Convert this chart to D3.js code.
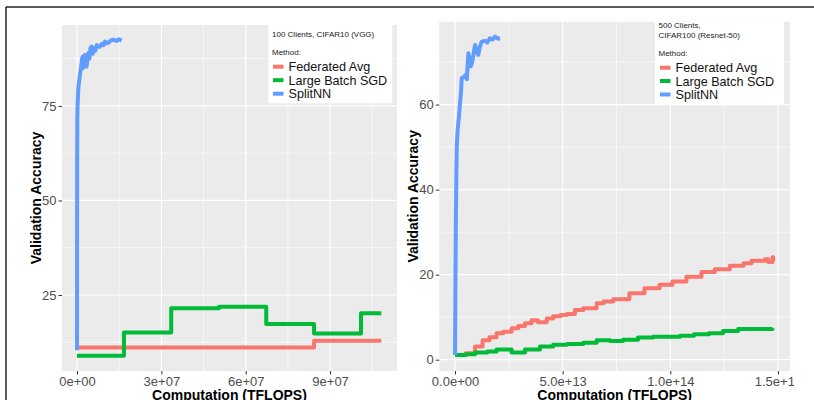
<!DOCTYPE html>
<html>
<head>
<meta charset="utf-8">
<script src="https://cdn.jsdelivr.net/npm/d3@7"></script>
<style>
  body { margin: 0; background: #fff; }
  svg { display: block; font-family: "Liberation Sans", Arial, sans-serif; }
</style>
</head>
<body>
<svg id="chart" width="814" height="400"></svg>
<script>
// ===> data
const methods = ["Federated Avg", "Large Batch SGD", "SplitNN"];
const colors = ["#F8766D", "#00BA38", "#619CFF"];

// left panel: 100 clients, CIFAR10 (VGG)
const leftTitle = ["100 Clients, CIFAR10 (VGG)"];
const leftXTicks = [0, 3e7, 6e7, 9e7];
const leftXLabels = ["0e+00", "3e+07", "6e+07", "9e+07"];
const leftYTicks = [25, 50, 75];

const leftFedX = [0, 8.43e7, 10.82e7];
const leftFedY = [11.1, 12.9, 12.9];
const leftSgdX = [0, 1.67e7, 3.35e7, 5.05e7, 6.73e7, 8.43e7, 10.1e7, 10.82e7];
const leftSgdY = [8.9, 15.1, 21.5, 21.9, 17.3, 14.8, 20.2, 20.2];
const leftSplitX = [0, 0.002e7, 0.005e7, 0.01e7, 0.02e7, 0.05e7, 0.1e7, 0.13e7, 0.16e7, 0.18e7, 0.2e7, 0.22e7,
  0.25e7, 0.28e7, 0.31e7, 0.34e7, 0.4e7, 0.44e7, 0.48e7, 0.52e7, 0.56e7, 0.6e7, 0.65e7, 0.7e7,
  0.8e7, 0.9e7, 0.95e7, 1.0e7, 1.1e7, 1.2e7, 1.3e7, 1.4e7, 1.5e7, 1.59e7];
const leftSplitY = [10.4, 35, 60, 71, 75, 80, 83, 84.5, 86, 87.5, 88, 85, 87, 88.5, 86.5, 85.4, 89, 87.5, 90.3,
  90.7, 88.8, 90.3, 89.6, 91.1, 90.6, 91.5, 91.1, 92, 91.6, 92.3, 92.5, 92.2, 92.6, 92.3];

// right panel: 500 clients, CIFAR100 (Resnet-50)
const rightTitle = ["500 Clients,", "CIFAR100 (Resnet-50)"];
const rightXTicks = [0, 5e13, 1e14, 1.5e14];
const rightXLabels = ["0.0e+00", "5.0e+13", "1.0e+14", "1.5e+14"];
const rightYTicks = [0, 20, 40, 60];

const rightFedX = [0, 0.5, 0.93, 1.28, 1.6, 1.93, 2.24, 2.63, 2.94, 3.25, 3.56, 3.85, 4.26, 4.56, 4.9, 5.2,
  5.57, 5.96, 6.58, 6.9, 7.35, 8.1, 8.8, 9.5, 10.1, 10.75, 11.45, 12.07, 12.77, 13.4, 13.77, 14.4,
  14.55, 14.75, 14.78, 14.8].map(d => d * 1e13);
const rightFedY = [1.1, 1.5, 3.1, 4.6, 5.3, 6.2, 6.6, 7.4, 7.9, 8.6, 9.3, 8.8, 9.7, 10.2, 10.5, 10.75,
  11.7, 12.1, 13.3, 13.7, 14.2, 15.6, 16.8, 17.6, 18.4, 19.5, 20.6, 21.3, 22.1, 22.7, 23.3, 23.6,
  23.0, 24.1, 23.2, 23.2];
const rightSgdX = [0, 0.5, 0.93, 1.5, 1.93, 2.63, 3.25, 3.95, 4.56, 5.2, 5.96, 6.58, 7.2, 7.8, 8.5, 9.2,
  10.45, 11.1, 11.8, 12.45, 13.15, 14.75].map(d => d * 1e13);
const rightSgdY = [1.1, 1.3, 1.7, 1.9, 2.4, 1.7, 2.4, 3.1, 3.5, 3.7, 4.0, 4.6, 4.4, 4.7, 5.2, 5.4,
  5.65, 6.0, 6.2, 6.75, 7.2, 7.4];
const rightSplitX = [0, 0.01, 0.02, 0.04, 0.06, 0.08, 0.12, 0.18, 0.23, 0.28, 0.31, 0.4, 0.5, 0.55, 0.62,
  0.68, 0.73, 0.8, 0.93, 1.0, 1.08, 1.15, 1.24, 1.4, 1.5, 1.62, 1.75, 1.86, 2.0, 2.09].map(d => d * 1e13);
const rightSplitY = [1.1, 8, 18, 33, 42, 50, 54, 57, 60.3, 63, 66.2, 66.5, 67, 66, 72.1, 70.5, 69, 70, 74,
  73, 71.7, 73.5, 74.8, 75, 74.6, 75.6, 75.3, 76, 75.5, 75.6];

// ===> drawing
const svg = d3.select("#chart");

// frame lines round the figure
svg.append("line").attr("x1", 6).attr("x2", 814).attr("y1", 7).attr("y2", 7)
  .attr("stroke", "#222").attr("stroke-width", 1.5);
svg.append("line").attr("x1", 6).attr("x2", 6).attr("y1", 7).attr("y2", 400)
  .attr("stroke", "#222").attr("stroke-width", 1.5);

// the original figure is cropped a bit before the right edge
svg.append("clipPath").attr("id", "crop")
  .append("rect").attr("x", 0).attr("y", 0).attr("width", 794).attr("height", 400);

function drawPanel(p) {
  let g = svg.append("g").attr("clip-path", "url(#crop)");

  let x = d3.scaleLinear().domain(p.xDomain).range([p.left, p.right]);
  let y = d3.scaleLinear().domain(p.yDomain).range([p.bottom, p.top]);

  // panel background
  g.append("rect")
    .attr("x", p.left).attr("y", p.top)
    .attr("width", p.right - p.left).attr("height", p.bottom - p.top)
    .attr("fill", "#EBEBEB");

  // minor grid (half way between the majors)
  let xMinor = d3.pairs(p.xTicks).map(d => (d[0] + d[1]) / 2);
  xMinor.push(p.xTicks[p.xTicks.length - 1] + (p.xTicks[1] - p.xTicks[0]) / 2);
  let yMinor = d3.pairs(p.yTicks).map(d => (d[0] + d[1]) / 2);
  yMinor.unshift(p.yTicks[0] - (p.yTicks[1] - p.yTicks[0]) / 2);
  yMinor.push(p.yTicks[p.yTicks.length - 1] + (p.yTicks[1] - p.yTicks[0]) / 2);

  g.selectAll(".xminor").data(xMinor.filter(d => x(d) > p.left && x(d) < p.right)).enter()
    .append("line")
    .attr("x1", d => x(d)).attr("x2", d => x(d)).attr("y1", p.top).attr("y2", p.bottom)
    .attr("stroke", "#fff").attr("stroke-width", 0.6);
  g.selectAll(".yminor").data(yMinor.filter(d => y(d) > p.top && y(d) < p.bottom)).enter()
    .append("line")
    .attr("x1", p.left).attr("x2", p.right).attr("y1", d => y(d)).attr("y2", d => y(d))
    .attr("stroke", "#fff").attr("stroke-width", 0.6);

  // major grid
  g.selectAll(".xmajor").data(p.xTicks).enter()
    .append("line")
    .attr("x1", d => x(d)).attr("x2", d => x(d)).attr("y1", p.top).attr("y2", p.bottom)
    .attr("stroke", "#fff").attr("stroke-width", 1.2);
  g.selectAll(".ymajor").data(p.yTicks).enter()
    .append("line")
    .attr("x1", p.left).attr("x2", p.right).attr("y1", d => y(d)).attr("y2", d => y(d))
    .attr("stroke", "#fff").attr("stroke-width", 1.2);

  // axes through d3, then restyled to look like ggplot
  let xAxis = g.append("g").attr("transform", "translate(0," + p.bottom + ")")
    .call(d3.axisBottom(x).tickValues(p.xTicks).tickFormat((d, i) => p.xLabels[i])
      .tickSize(3.5).tickPadding(2));
  let yAxis = g.append("g").attr("transform", "translate(" + p.left + ",0)")
    .call(d3.axisLeft(y).tickValues(p.yTicks).tickFormat(d3.format("d"))
      .tickSize(3.5).tickPadding(2));
  [xAxis, yAxis].forEach(a => {
    a.select(".domain").remove();
    a.selectAll(".tick line").attr("stroke", "#333").attr("stroke-width", 1);
    a.selectAll(".tick text").attr("fill", "#4D4D4D").style("font-size", "13px")
      .style("font-family", "'Liberation Sans', Arial, sans-serif");
  });

  // axis titles
  g.append("text")
    .attr("x", (p.left + p.right) / 2).attr("y", 399.5)
    .attr("text-anchor", "middle")
    .style("font-size", "14px").style("font-weight", "bold")
    .text("Computation (TFLOPS)");
  g.append("text")
    .attr("transform", "translate(" + p.yTitleX + "," + ((p.top + p.bottom) / 2) + ") rotate(-90)")
    .attr("dy", "0.36em")
    .attr("text-anchor", "middle")
    .style("font-size", "14px").style("font-weight", "bold")
    .text("Validation Accuracy");

  // the three series
  let series = [
    { xs: p.fedX, ys: p.fedY, curve: d3.curveStepAfter },
    { xs: p.sgdX, ys: p.sgdY, curve: d3.curveStepAfter },
    { xs: p.splitX, ys: p.splitY, curve: d3.curveLinear }
  ];
  series.forEach((s, i) => {
    let pts = s.xs.map((v, k) => [v, s.ys[k]]);
    let line = d3.line().x(d => x(d[0])).y(d => y(d[1])).curve(s.curve);
    g.append("path")
      .attr("d", line(pts))
      .attr("fill", "none")
      .attr("stroke", colors[i])
      .attr("stroke-width", 4)
      .attr("stroke-linejoin", "round");
  });

  // legend box inside the panel
  let lg = g.append("g");
  lg.append("rect")
    .attr("x", p.legend.x0).attr("y", p.top)
    .attr("width", p.legend.x1 - p.legend.x0).attr("height", p.legend.y1 - p.top)
    .attr("fill", "#fff");
  p.title.forEach((t, i) => {
    lg.append("text")
      .attr("x", p.legend.textX).attr("y", p.legend.titleY[i])
      .style("font-size", "8px").attr("fill", "#222")
      .text(t);
  });
  lg.append("text")
    .attr("x", p.legend.textX).attr("y", p.legend.methodY)
    .style("font-size", "8px").attr("fill", "#222")
    .text("Method:");
  methods.forEach((m, i) => {
    let cy = p.legend.keyY[i];
    lg.append("line")
      .attr("x1", p.legend.keyX).attr("x2", p.legend.keyX + 10.5)
      .attr("y1", cy).attr("y2", cy)
      .attr("stroke", colors[i]).attr("stroke-width", 4);
    lg.append("text")
      .attr("x", p.legend.keyX + 15.5).attr("y", cy + 4.6)
      .style("font-size", "12.6px").attr("fill", "#111")
      .text(m);
  });
}

drawPanel({
  left: 62, right: 397, top: 25, bottom: 371,
  xDomain: [-0.534e7, 11.38e7], yDomain: [4.9, 96.4],
  xTicks: leftXTicks, xLabels: leftXLabels, yTicks: leftYTicks,
  yTitleX: 36,
  fedX: leftFedX, fedY: leftFedY, sgdX: leftSgdX, sgdY: leftSgdY,
  splitX: leftSplitX, splitY: leftSplitY,
  title: leftTitle,
  legend: { x0: 268.3, x1: 392.3, y1: 103.3, textX: 272, titleY: [37.3], methodY: 55.3,
            keyX: 273, keyY: [66.7, 80.2, 93.7] }
});

drawPanel({
  left: 439.3, right: 790, top: 21.7, bottom: 371,
  xDomain: [-0.73e13, 15.56e13], yDomain: [-2.66, 79.5],
  xTicks: rightXTicks, xLabels: rightXLabels, yTicks: rightYTicks,
  yTitleX: 413,
  fedX: rightFedX, fedY: rightFedY, sgdX: rightSgdX, sgdY: rightSgdY,
  splitX: rightSplitX, splitY: rightSplitY,
  title: rightTitle,
  legend: { x0: 655, x1: 784, y1: 104.3, textX: 658.5, titleY: [28.3, 37.7], methodY: 56,
            keyX: 660, keyY: [67.7, 81, 94.5] }
});
</script>
</body>
</html>
